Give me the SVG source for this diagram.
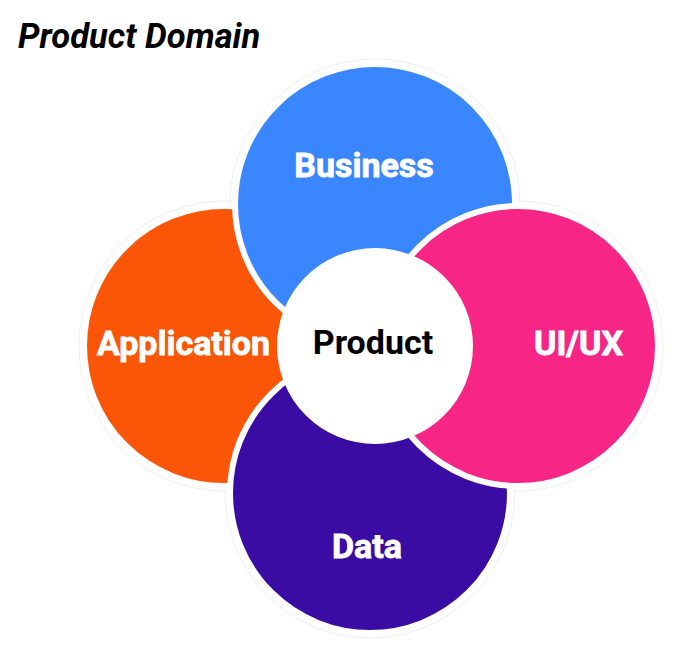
<svg xmlns="http://www.w3.org/2000/svg" width="700" height="659" viewBox="0 0 700 659">
  <style>
    .ring { fill: none; stroke: #efefef; stroke-width: 1; }
    .petal { stroke: #ffffff; stroke-width: 6; }
    .lbl { font-family: Roboto, "Liberation Sans", sans-serif; font-weight: 700; font-size: 34px; fill: #ffffff; stroke: #ffffff; stroke-width: 0.8; text-anchor: middle; }
    .dark { fill: #000000; stroke: none; }
    .title { font-family: Roboto, "Liberation Sans", sans-serif; font-weight: 700; font-style: italic; font-size: 34.5px; fill: #000000; }
  </style>
  <rect width="700" height="659" fill="#ffffff"/>
  <text class="title" x="18" y="48">Product Domain</text>
  <g id="shadows">
    <circle class="ring" cx="224" cy="346" r="145"/>
    <circle class="ring" cx="375" cy="204" r="145"/>
    <circle class="ring" cx="370" cy="493" r="145"/>
    <circle class="ring" cx="518" cy="346" r="145"/>
  </g>
  <g id="application">
    <circle class="petal" cx="224" cy="346" r="140" fill="#FB5607"/>
  </g>
  <g id="business">
    <circle class="petal" cx="375" cy="204" r="140" fill="#3A86FF"/>
  </g>
  <g id="data">
    <circle class="petal" cx="370" cy="493" r="140" fill="#3A0CA3"/>
  </g>
  <g id="uiux">
    <circle class="petal" cx="518" cy="346" r="140" fill="#F72585"/>
  </g>
  <g id="product">
    <circle cx="375" cy="346" r="98" fill="#ffffff"/>
  </g>
  <g id="labels">
    <text class="lbl" x="364" y="177">Business</text>
    <text class="lbl" x="183.5" y="355">Application</text>
    <text class="lbl" x="578.5" y="355">UI/UX</text>
    <text class="lbl" x="367" y="558">Data</text>
    <text class="lbl dark" x="373" y="354">Product</text>
  </g>
</svg>
